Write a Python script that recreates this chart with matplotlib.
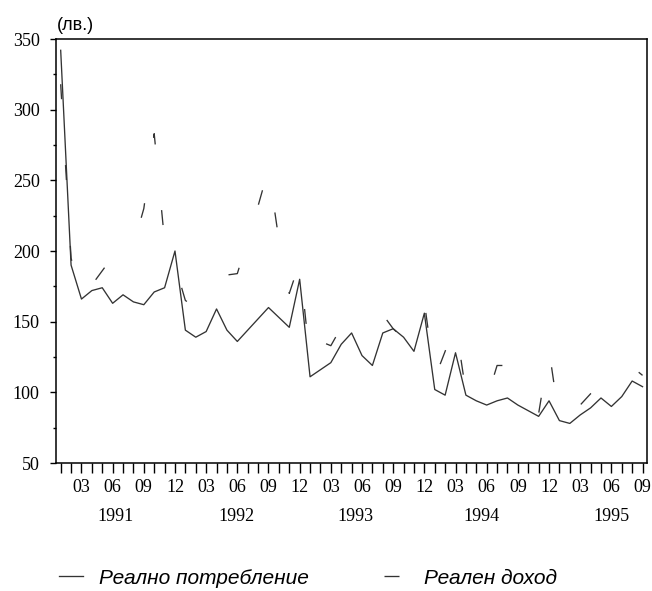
import matplotlib
matplotlib.use('Agg')
import matplotlib.pyplot as plt
from matplotlib.lines import Line2D
import numpy as np

# monthly values, 1991-01 .. 1995-09
months = np.arange(57)
consumption = [342, 190, 166, 172, 174, 163, 169, 164, 162, 171, 174, 200,
               144, 139, 143, 159, 144, 136, 144, 152, 160, 153, 146, 180,
               111, 116, 121, 134, 142, 126, 119, 142, 145, 139, 129, 156,
               102, 98, 128, 98, 94, 91, 94, 96, 91, 87, 83, 94,
               80, 78, 84, 89, 96, 90, 97, 108, 104]
income = [318, 195, 165, 176, 186, 196, 200, 204, 230, 283, 207, 190,
          165, 160, 170, 186, 183, 184, 208, 232, 258, 208, 170, 192,
          122, 136, 133, 146, 151, 147, 151, 155, 145, 138, 142, 164,
          110, 129, 149, 100, 96, 95, 119, 119, 100, 88, 85, 130,
          80, 84, 91, 99, 104, 100, 105, 118, 112]
month_names = ['03', '06', '09', '12']
years = ['1991', '1992', '1993', '1994', '1995']
year_pos = [5.3, 16.9, 28.4, 40.5, 53.0]

plt.rcParams['lines.scale_dashes'] = False
serif = 'Liberation Serif'
sans = 'Liberation Sans'

fig = plt.figure(figsize=(6.52, 5.91), dpi=100)
ax = fig.add_axes([55.7 / 652, 1 - 463 / 591, 591 / 652, 424 / 591])

line_c, = ax.plot(months, consumption, color='#333333', lw=0.95)
line_i, = ax.plot(months, income, color='#333333', lw=0.95, dashes=(10.8, 47.5))

ax.set_xlim(-0.48, 56.4)
ax.set_ylim(50, 350)

ax.set_yticks(range(50, 351, 50))
ax.set_yticks(range(75, 350, 50), minor=True)
ax.set_xticks(months)
ax.set_xticklabels([month_names[(m - 2) // 3 % 4] if (m - 2) % 3 == 0 else '' for m in months])

ax.tick_params(axis='x', direction='out', length=7.2, width=1, pad=4.5, labelsize=13)
ax.tick_params(axis='y', which='major', direction='out', length=4, width=1, pad=7.5, labelsize=13)
ax.tick_params(axis='y', which='minor', direction='out', length=2.4, width=1)
for lab in ax.get_xticklabels() + ax.get_yticklabels():
    lab.set_family(serif)
for sp in ax.spines.values():
    sp.set_linewidth(1.1)

for y, p in zip(years, year_pos):
    ax.text(p, -0.127, y, transform=ax.get_xaxis_transform(), ha='center', va='center',
            family=serif, fontsize=13)

fig.text(57 / 652, 1 - 25 / 591, '(лв.)', family=sans, fontsize=13, va='center')

fig.legend([line_c, line_i], ['Реално потребление', 'Реален доход'],
           loc='center', bbox_to_anchor=(308 / 652, 1 - 578 / 591), ncol=2, frameon=False,
           prop=dict(family=sans, style='italic', size=15),
           handlelength=1.15, handletextpad=0.77, columnspacing=3.6)

fig.savefig('out.png', dpi=100)
